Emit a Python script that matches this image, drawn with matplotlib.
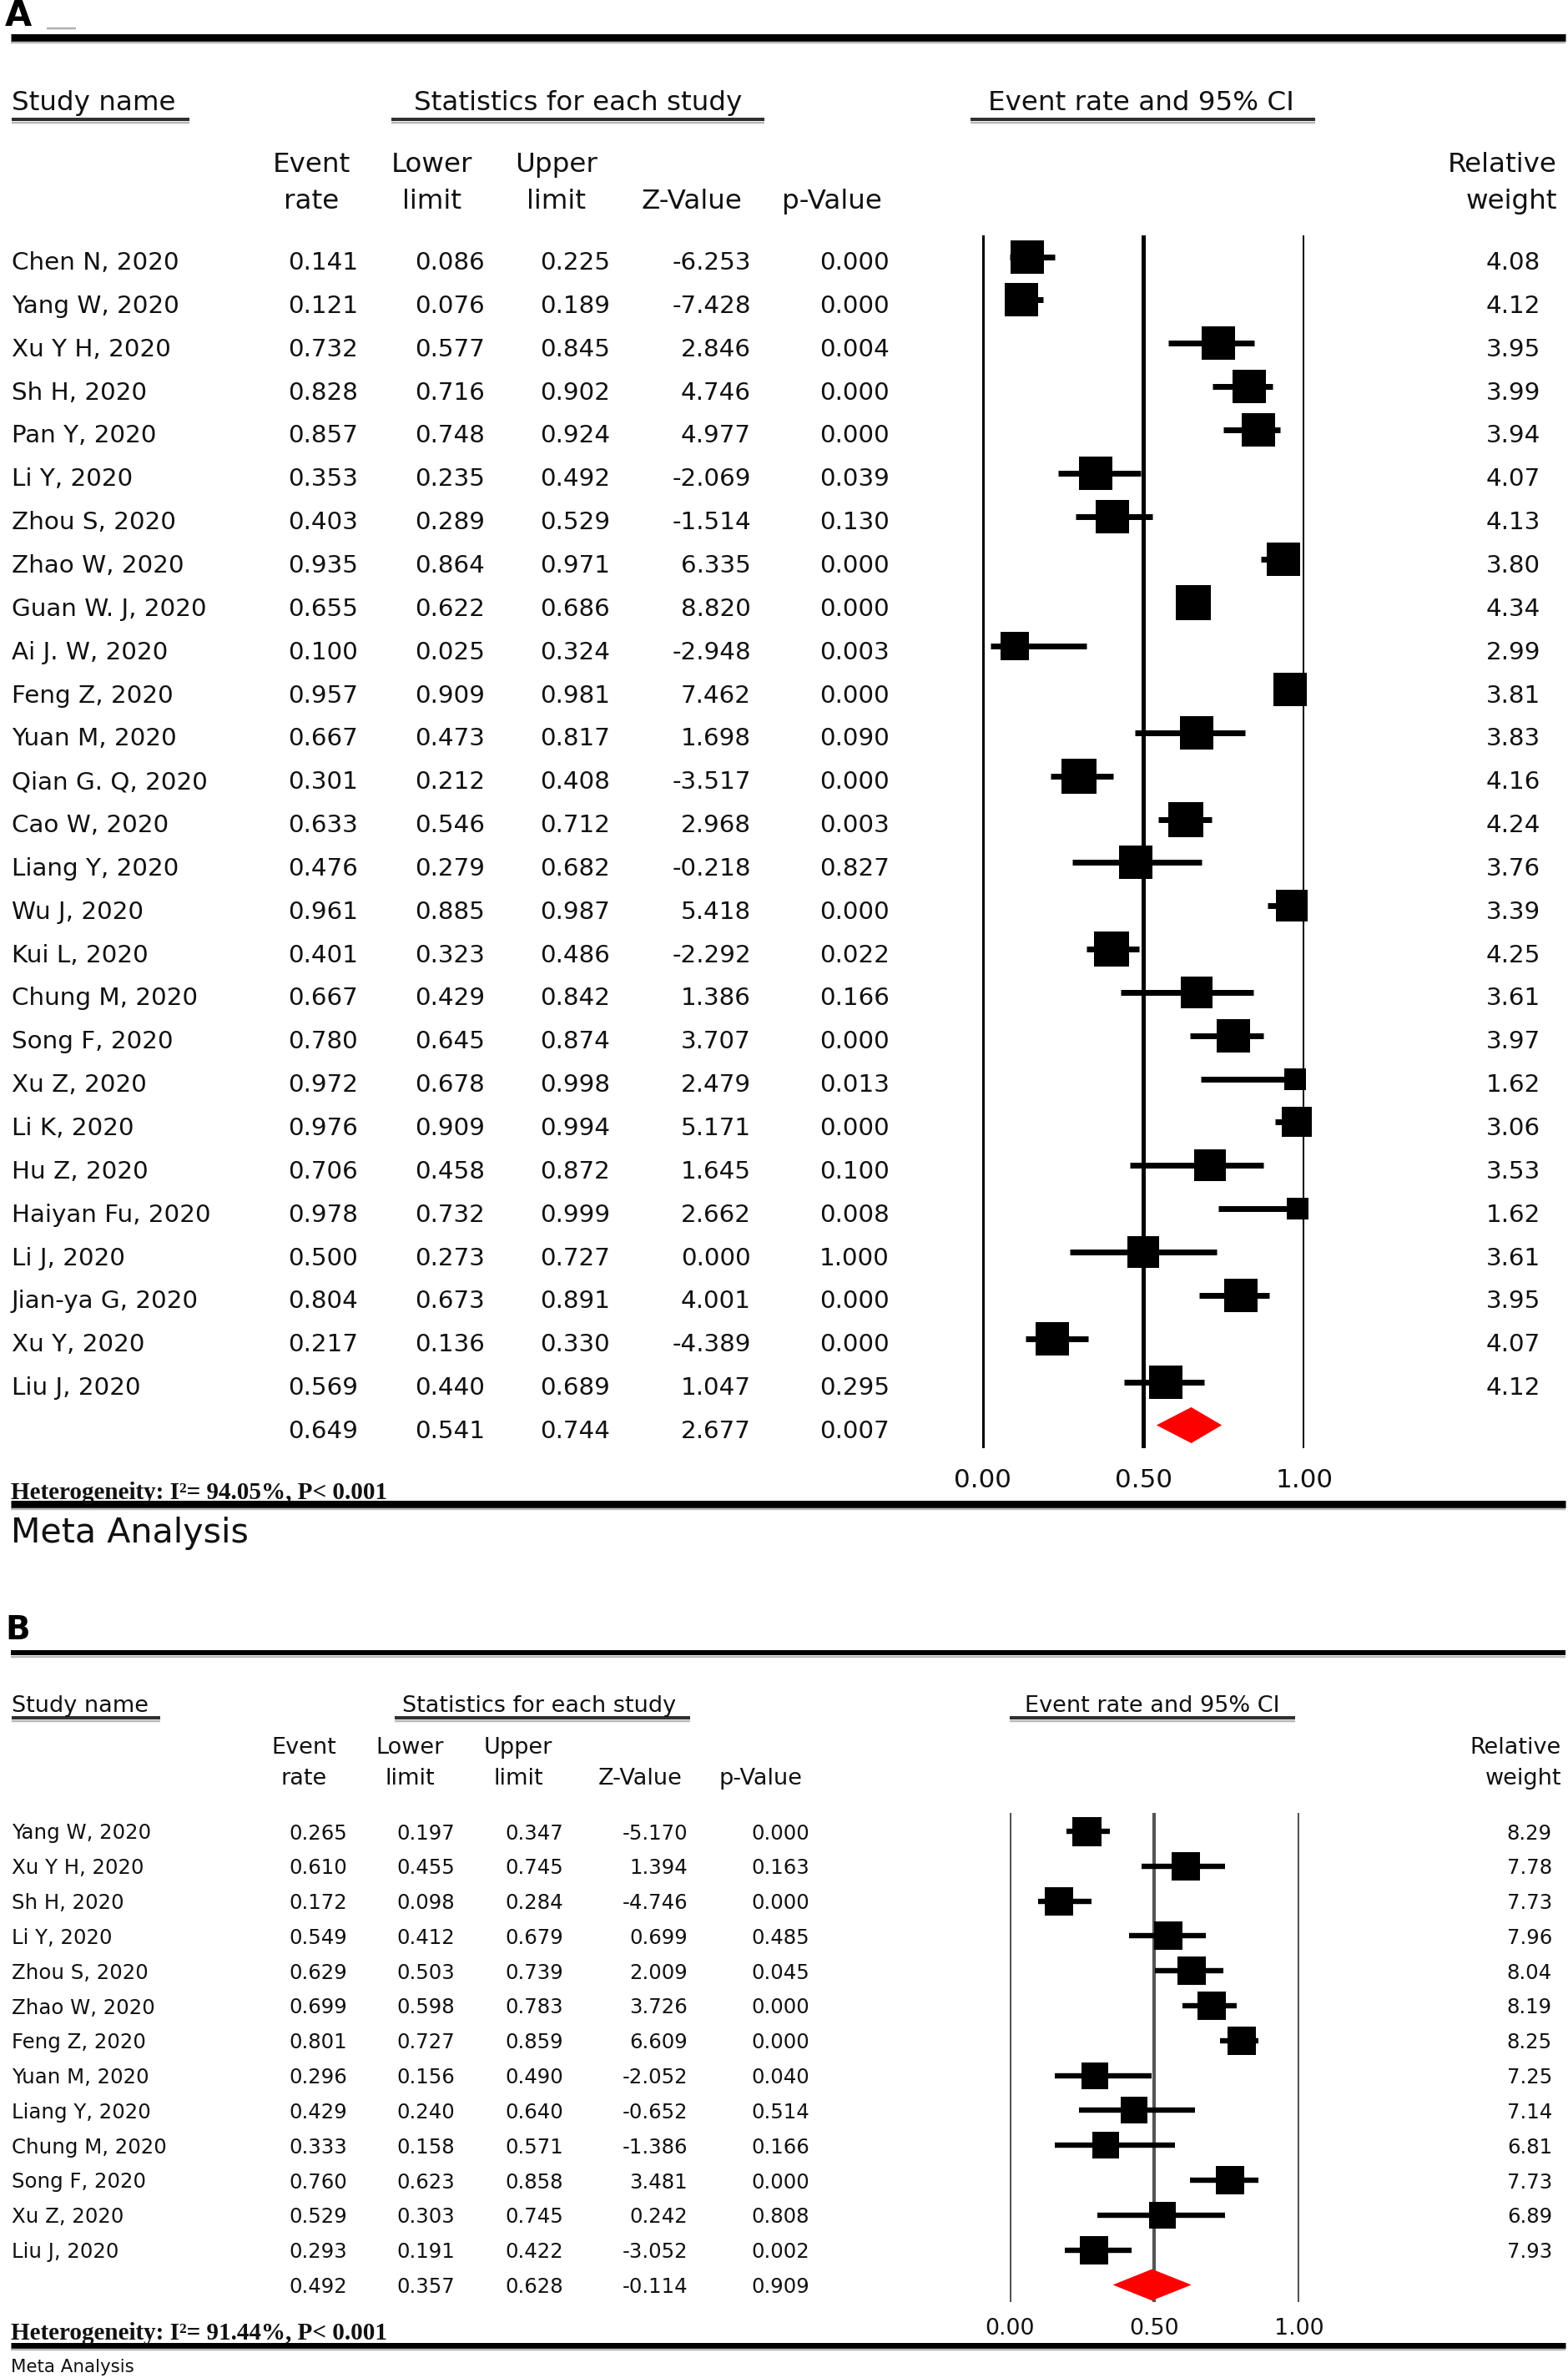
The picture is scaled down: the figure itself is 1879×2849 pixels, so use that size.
import matplotlib
matplotlib.use("Agg")
import matplotlib.pyplot as plt
import numpy as np
from matplotlib import font_manager

# ---------------- Panel A data ----------------
studies_a = ["Chen N, 2020", "Yang W, 2020", "Xu Y H, 2020", "Sh H, 2020", "Pan Y, 2020",
             "Li Y, 2020", "Zhou S, 2020", "Zhao W, 2020", "Guan W. J, 2020", "Ai J. W, 2020",
             "Feng Z, 2020", "Yuan M, 2020", "Qian G. Q, 2020", "Cao W, 2020", "Liang Y, 2020",
             "Wu J, 2020", "Kui L, 2020", "Chung M, 2020", "Song F, 2020", "Xu Z, 2020",
             "Li K, 2020", "Hu Z, 2020", "Haiyan Fu, 2020", "Li J, 2020", "Jian-ya G, 2020",
             "Xu Y, 2020", "Liu J, 2020"]
rate_a = [0.141, 0.121, 0.732, 0.828, 0.857, 0.353, 0.403, 0.935, 0.655, 0.100, 0.957, 0.667,
          0.301, 0.633, 0.476, 0.961, 0.401, 0.667, 0.780, 0.972, 0.976, 0.706, 0.978, 0.500,
          0.804, 0.217, 0.569]
lower_a = [0.086, 0.076, 0.577, 0.716, 0.748, 0.235, 0.289, 0.864, 0.622, 0.025, 0.909, 0.473,
           0.212, 0.546, 0.279, 0.885, 0.323, 0.429, 0.645, 0.678, 0.909, 0.458, 0.732, 0.273,
           0.673, 0.136, 0.440]
upper_a = [0.225, 0.189, 0.845, 0.902, 0.924, 0.492, 0.529, 0.971, 0.686, 0.324, 0.981, 0.817,
           0.408, 0.712, 0.682, 0.987, 0.486, 0.842, 0.874, 0.998, 0.994, 0.872, 0.999, 0.727,
           0.891, 0.330, 0.689]
z_a = ["-6.253", "-7.428", "2.846", "4.746", "4.977", "-2.069", "-1.514", "6.335", "8.820",
       "-2.948", "7.462", "1.698", "-3.517", "2.968", "-0.218", "5.418", "-2.292", "1.386",
       "3.707", "2.479", "5.171", "1.645", "2.662", "0.000", "4.001", "-4.389", "1.047"]
p_a = ["0.000", "0.000", "0.004", "0.000", "0.000", "0.039", "0.130", "0.000", "0.000", "0.003",
       "0.000", "0.090", "0.000", "0.003", "0.827", "0.000", "0.022", "0.166", "0.000", "0.013",
       "0.000", "0.100", "0.008", "1.000", "0.000", "0.000", "0.295"]
weight_a = [4.08, 4.12, 3.95, 3.99, 3.94, 4.07, 4.13, 3.80, 4.34, 2.99, 3.81, 3.83, 4.16, 4.24,
            3.76, 3.39, 4.25, 3.61, 3.97, 1.62, 3.06, 3.53, 1.62, 3.61, 3.95, 4.07, 4.12]
summary_a = [0.649, 0.541, 0.744]
summary_a_txt = ["0.649", "0.541", "0.744", "2.677", "0.007"]
het_a = "Heterogeneity: I\u00b2= 94.05%, P< 0.001"

# ---------------- Panel B data ----------------
studies_b = ["Yang W, 2020", "Xu Y H, 2020", "Sh H, 2020", "Li Y, 2020", "Zhou S, 2020",
             "Zhao W, 2020", "Feng Z, 2020", "Yuan M, 2020", "Liang Y, 2020", "Chung M, 2020",
             "Song F, 2020", "Xu Z, 2020", "Liu J, 2020"]
rate_b = [0.265, 0.610, 0.172, 0.549, 0.629, 0.699, 0.801, 0.296, 0.429, 0.333, 0.760, 0.529, 0.293]
lower_b = [0.197, 0.455, 0.098, 0.412, 0.503, 0.598, 0.727, 0.156, 0.240, 0.158, 0.623, 0.303, 0.191]
upper_b = [0.347, 0.745, 0.284, 0.679, 0.739, 0.783, 0.859, 0.490, 0.640, 0.571, 0.858, 0.745, 0.422]
z_b = ["-5.170", "1.394", "-4.746", "0.699", "2.009", "3.726", "6.609", "-2.052", "-0.652",
       "-1.386", "3.481", "0.242", "-3.052"]
p_b = ["0.000", "0.163", "0.000", "0.485", "0.045", "0.000", "0.000", "0.040", "0.514", "0.166",
       "0.000", "0.808", "0.002"]
weight_b = [8.29, 7.78, 7.73, 7.96, 8.04, 8.19, 8.25, 7.25, 7.14, 6.81, 7.73, 6.89, 7.93]
summary_b = [0.492, 0.357, 0.628]
summary_b_txt = ["0.492", "0.357", "0.628", "-0.114", "0.909"]
het_b = "Heterogeneity: I\u00b2= 91.44%, P< 0.001"

tick_vals = [0.0, 0.5, 1.0]
tick_labels = ["0.00", "0.50", "1.00"]

W, H = 1879, 2849
fig = plt.figure(figsize=(W / 100, H / 100), dpi=100)
fig.patch.set_facecolor("white")
bg = fig.add_axes([0, 0, 1, 1], zorder=0)
bg.set_xlim(0, W)
bg.set_ylim(H, 0)
bg.axis("off")

PT = 0.72  # px -> pt at 100 dpi
TXT = "#111111"

avail = {f.name for f in font_manager.fontManager.ttflist}
narrow = "Liberation Sans Narrow" if "Liberation Sans Narrow" in avail else "DejaVu Sans"
serif = "Liberation Serif" if "Liberation Serif" in avail else "DejaVu Serif"


def hline(x0, x1, y, lw_px, color="black", shadow=True):
    bg.plot([x0, x1], [y, y], color=color, lw=lw_px * PT, solid_capstyle="butt")
    if shadow:
        bg.plot([x0, x1], [y + lw_px / 2 + 1.5, y + lw_px / 2 + 1.5], color="#b8b8b8",
                lw=2.5 * PT, solid_capstyle="butt")


def panel(cfg):
    s = cfg
    # panel letter
    bg.text(s["letter_x"], s["letter_y"], s["letter"], fontsize=s["letter_fs"], family=narrow,
            fontweight="bold", ha="left", va="center", color="black")
    hline(13, 1876, s["top_line_y"], s["top_line_w"])
    # section headers
    hf = s["head_fs"]
    bg.text(14, s["head_base"], "Study name", fontsize=hf, ha="left", va="baseline", color=TXT)
    hline(14, s["sn_ul"], s["ul_y"], 4, color="#303030")
    bg.text(s["st_c"], s["head_base"], "Statistics for each study", fontsize=hf, ha="center",
            va="baseline", color=TXT)
    hline(s["st_ul"][0], s["st_ul"][1], s["ul_y"], 4, color="#303030")
    bg.text(s["er_c"], s["head_base"], "Event rate and 95% CI", fontsize=hf, ha="center",
            va="baseline", color=TXT)
    hline(s["er_ul"][0], s["er_ul"][1], s["ul_y"], 4, color="#303030")
    # column headers
    b1, b2 = s["col_base"]
    cx = s["col_c"]
    bg.text(cx[0], b1, "Event", fontsize=hf, ha="center", va="baseline", color=TXT)
    bg.text(cx[0], b2, "rate", fontsize=hf, ha="center", va="baseline", color=TXT)
    bg.text(cx[1], b1, "Lower", fontsize=hf, ha="center", va="baseline", color=TXT)
    bg.text(cx[1], b2, "limit", fontsize=hf, ha="center", va="baseline", color=TXT)
    bg.text(cx[2], b1, "Upper", fontsize=hf, ha="center", va="baseline", color=TXT)
    bg.text(cx[2], b2, "limit", fontsize=hf, ha="center", va="baseline", color=TXT)
    bg.text(cx[3], b2, "Z-Value", fontsize=hf, ha="center", va="baseline", color=TXT)
    bg.text(cx[4], b2, "p-Value", fontsize=hf, ha="center", va="baseline", color=TXT)
    bg.text(s["rw_r"], b1, "Relative", fontsize=hf, ha="right", va="baseline", color=TXT)
    bg.text(s["rw_r"], b2, "weight", fontsize=hf, ha="right", va="baseline", color=TXT)

    # rows
    n = len(s["names"])
    r0, dy = s["row0"], s["dy"]
    rf = s["row_fs"]
    xr = s["val_r"]
    for i in range(n):
        yb = r0 + dy * i + s["txt_off"]
        bg.text(14, yb, s["names"][i], fontsize=rf, ha="left", va="baseline", color=TXT)
        vals = [f"{s['rate'][i]:.3f}", f"{s['lower'][i]:.3f}", f"{s['upper'][i]:.3f}",
                s["z"][i], s["p"][i]]
        for k, v in enumerate(vals):
            bg.text(xr[k], yb, v, fontsize=rf, ha="right", va="baseline", color=TXT)
        bg.text(s["w_r"], yb, f"{s['weight'][i]:.2f}", fontsize=rf, ha="right",
                va="baseline", color=TXT)
    yb = r0 + dy * n + s["txt_off"]
    for k, v in enumerate(s["sum_txt"]):
        bg.text(xr[k], yb, v, fontsize=rf, ha="right", va="baseline", color=TXT)

    # forest axes
    x0, x1 = s["fx"]
    top, bot = s["fy"]
    ax = fig.add_axes([x0 / W, 1 - bot / H, (x1 - x0) / W, (bot - top) / H], zorder=2)
    ax.set_facecolor("none")
    ax.set_xlim(0, 1)
    ax.set_ylim((bot - r0) / dy, (top - r0) / dy)
    for sp in ax.spines.values():
        sp.set_visible(False)
    ax.set_yticks([])
    ax.set_xticks(tick_vals)
    ax.set_xticklabels(tick_labels, fontsize=s["tick_fs"], color=TXT)
    ax.tick_params(axis="x", length=0, pad=s["tick_pad"])
    for v in tick_vals:
        ax.axvline(v, color=s["vcol"], lw=s["vlw"], zorder=1)
    wmax = max(s["weight"])
    for i in range(n):
        ax.hlines(i, s["lower"][i], s["upper"][i], color="black", lw=s["ci_lw"], zorder=3,
                  clip_on=False)
        side = s["sq_max"] * np.sqrt(s["weight"][i] / wmax)
        ax.plot(s["rate"][i], i, marker="s", ms=side * PT, color="black", mew=0, zorder=4,
                clip_on=False)
    est, lo, hi = s["summary"]
    h = s["dia_h"] / 2
    ax.fill([lo, est, hi, est], [n, n - h, n, n + h], color="#ff0000", lw=0, zorder=4,
            clip_on=False)

    # heterogeneity, bottom line, footer
    bg.text(13, s["het_base"], s["het"], fontsize=s["het_fs"], family=serif, fontweight="bold",
            ha="left", va="baseline", color=TXT)
    hline(13, 1876, s["bot_line_y"], s["bot_line_w"])
    bg.text(13, s["meta_base"], "Meta Analysis", fontsize=s["meta_fs"], ha="left",
            va="baseline", color=TXT)


cfg_a = dict(
    letter="A", letter_x=6, letter_y=19, letter_fs=30,
    top_line_y=45, top_line_w=9,
    head_fs=23.4, head_base=132, ul_y=143,
    sn_ul=227, st_c=693, st_ul=(469, 916), er_c=1367, er_ul=(1163, 1576),
    col_base=(206, 250), col_c=[373, 518, 667, 829, 997], rw_r=1866,
    names=studies_a, rate=rate_a, lower=lower_a, upper=upper_a, z=z_a, p=p_a, weight=weight_a,
    sum_txt=summary_a_txt, summary=summary_a,
    row0=307.5, dy=51.85, txt_off=15.5, row_fs=21.2,
    val_r=[429, 581, 731, 900, 1066], w_r=1846,
    fx=(1177, 1563), fy=(282, 1735), vcol="black", vlw=3.6, ci_lw=5.0,
    sq_max=42.0, dia_h=0.83, tick_fs=22.3, tick_pad=17,
    het=het_a, het_fs=21, het_base=1796,
    bot_line_y=1802, bot_line_w=9,
    meta_base=1848, meta_fs=29.6,
)

cfg_b = dict(
    letter="B", letter_x=6, letter_y=1953, letter_fs=28,
    top_line_y=1980, top_line_w=6,
    head_fs=19.5, head_base=2051, ul_y=2058,
    sn_ul=192, st_c=646, st_ul=(473, 827), er_c=1381, er_ul=(1210, 1552),
    col_base=(2101, 2138), col_c=[364, 491, 621, 767, 912], rw_r=1871,
    names=studies_b, rate=rate_b, lower=lower_b, upper=upper_b, z=z_b, p=p_b, weight=weight_b,
    sum_txt=summary_b_txt, summary=summary_b,
    row0=2194, dy=41.8, txt_off=9.5, row_fs=17.6,
    val_r=[416, 545, 675, 824, 970], w_r=1860,
    fx=(1209.5, 1557), fy=(2172, 2758), vcol="#555555", vlw=3.0, ci_lw=4.6,
    sq_max=35.0, dia_h=0.9, tick_fs=19.4, tick_pad=14,
    het=het_b, het_fs=21, het_base=2803,
    bot_line_y=2810, bot_line_w=7,
    meta_base=2842, meta_fs=15.4,
)

panel(cfg_a)
panel(cfg_b)
# small gray dash after panel letter A
bg.plot([56, 91], [34, 34], color="#b0b0b0", lw=2.5 * PT, solid_capstyle="butt")

fig.savefig("out.png", dpi=100, facecolor="white")
